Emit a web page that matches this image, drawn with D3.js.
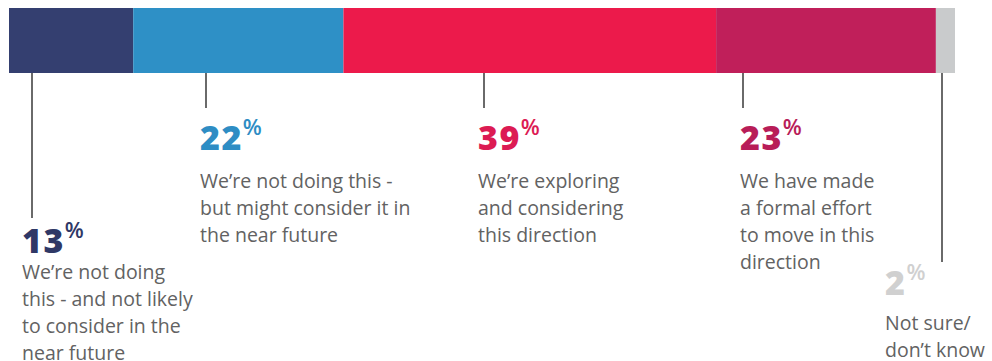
<!DOCTYPE html>
<html>
<head>
<meta charset="utf-8">
<script src="https://cdn.jsdelivr.net/npm/d3@7/dist/d3.min.js"></script>
<style>
  html, body { margin: 0; padding: 0; background: #ffffff; }
  svg { display: block; }
  text { font-family: "Open Sans", "Noto Sans", sans-serif; }
</style>
</head>
<body>
<svg id="chart" width="992" height="361"></svg>
<script>
// Survey responses: share of respondents per stance
const categories = [
  ["We\u2019re not doing", "this - and not likely", "to consider in the", "near future"],
  ["We\u2019re not doing this -", "but might consider it in", "the near future"],
  ["We\u2019re exploring", "and considering", "this direction"],
  ["We have made", "a formal effort", "to move in this", "direction"],
  ["Not sure/", "don\u2019t know"]
];
const values = [13, 22, 39, 23, 2];
const barColors = ["#343f70", "#2e90c6", "#ec1a4b", "#c01f5a", "#c9cbcc"];
const numberColors = ["#2f3866", "#2e8dc4", "#dc1b53", "#b81d58", "#d0d0d0"];

// Where each annotation sits: leader line x, label left x, number baseline,
// line end, and distance from number baseline to first text line
const labelLayout = [
  { lineX: 32,  textX: 22,  numY: 253, lineEnd: 218, textGap: 26 },
  { lineX: 206, textX: 200, numY: 150, lineEnd: 108, textGap: 38 },
  { lineX: 484, textX: 478, numY: 150, lineEnd: 108, textGap: 38 },
  { lineX: 743, textX: 740, numY: 150, lineEnd: 108, textGap: 38 },
  { lineX: 942, textX: 885, numY: 295, lineEnd: 262, textGap: 35 }
];

const svg = d3.select("#chart");
const barTop = 8, barBottom = 73;

const total = d3.sum(values);
const x = d3.scaleLinear().domain([0, total]).range([9, 955]);
const starts = d3.cumsum([0, ...values]).slice(0, values.length);

const data = values.map((v, i) => ({
  value: v, start: starts[i], lines: categories[i],
  bar: barColors[i], num: numberColors[i], layout: labelLayout[i]
}));

// Stacked 100% bar
svg.append("g").selectAll("rect")
  .data(data)
  .join("rect")
  .attr("x", d => x(d.start))
  .attr("y", barTop)
  .attr("width", d => x(d.start + d.value) - x(d.start))
  .attr("height", barBottom - barTop)
  .attr("fill", d => d.bar);

// Leader lines
svg.append("g").selectAll("line")
  .data(data)
  .join("line")
  .attr("x1", d => d.layout.lineX)
  .attr("x2", d => d.layout.lineX)
  .attr("y1", barBottom)
  .attr("y2", d => d.layout.lineEnd)
  .attr("stroke", "#6a6a6a")
  .attr("stroke-width", 2);

// Annotations: big percentage and description
const ann = svg.append("g").selectAll("g")
  .data(data)
  .join("g");

const num = ann.append("text")
  .attr("x", d => d.layout.textX)
  .attr("y", d => d.layout.numY)
  .attr("fill", d => d.num);
num.append("tspan")
  .attr("font-size", 34)
  .attr("font-weight", 800)
  .attr("letter-spacing", 1.5)
  .text(d => d.value);
num.append("tspan")
  .attr("font-size", 22)
  .attr("font-weight", 600)
  .attr("dx", 0)
  .attr("dy", -15)
  .text("%");

ann.each(function(d) {
  d3.select(this).append("text")
    .attr("x", d.layout.textX)
    .attr("y", d.layout.numY + d.layout.textGap)
    .attr("fill", "#626262")
    .attr("font-size", 19.5)
    .selectAll("tspan")
    .data(d.lines)
    .join("tspan")
    .attr("x", d.layout.textX)
    .attr("dy", (l, j) => j === 0 ? 0 : 27)
    .text(l => l);
});
</script>
</body>
</html>
